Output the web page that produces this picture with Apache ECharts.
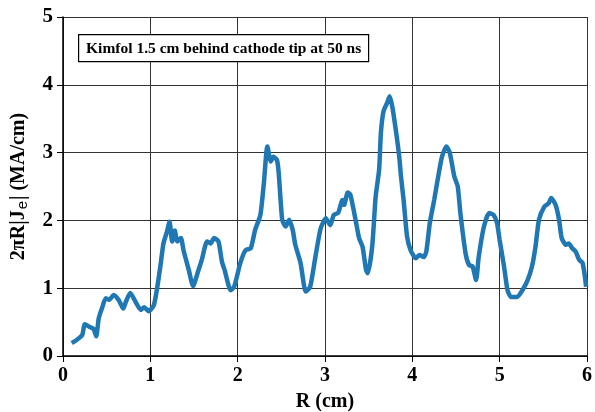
<!DOCTYPE html>
<html><head><meta charset="utf-8">
<script src="https://cdn.jsdelivr.net/npm/echarts@6/dist/echarts.min.js"></script>
<style>html,body{margin:0;padding:0;background:#fff}#c{width:595px;height:412px}</style>
</head><body><div id="c"></div>
<script>
const rValues = [0.10,0.16,0.22,0.25,0.30,0.35,0.38,0.41,0.45,0.49,0.53,0.58,0.64,0.69,0.72,0.77,0.83,0.89,0.93,0.98,1.04,1.08,1.12,1.15,1.19,1.22,1.25,1.28,1.31,1.35,1.38,1.44,1.49,1.54,1.59,1.65,1.69,1.73,1.78,1.82,1.85,1.92,1.96,2.03,2.09,2.15,2.20,2.26,2.30,2.34,2.38,2.41,2.45,2.47,2.51,2.55,2.59,2.63,2.66,2.72,2.78,2.83,2.89,2.95,3.01,3.06,3.10,3.15,3.20,3.22,3.26,3.29,3.35,3.39,3.43,3.47,3.49,3.54,3.58,3.62,3.64,3.67,3.71,3.74,3.77,3.81,3.85,3.87,3.90,3.94,3.98,4.04,4.08,4.13,4.16,4.20,4.25,4.29,4.34,4.39,4.43,4.48,4.52,4.55,4.61,4.65,4.69,4.73,4.76,4.82,4.88,4.93,4.97,5.00,5.05,5.09,5.13,5.20,5.26,5.32,5.37,5.41,5.45,5.51,5.56,5.59,5.64,5.68,5.71,5.76,5.79,5.83,5.87,5.91,5.95,5.99];
const jValues = [0.19,0.24,0.31,0.47,0.43,0.40,0.29,0.56,0.72,0.85,0.83,0.90,0.82,0.70,0.80,0.93,0.80,0.68,0.72,0.66,0.75,1.02,1.37,1.66,1.83,1.98,1.69,1.85,1.69,1.74,1.56,1.27,1.03,1.22,1.42,1.69,1.66,1.74,1.69,1.39,1.27,0.97,1.02,1.37,1.56,1.59,1.86,2.08,2.55,3.09,2.87,2.94,2.89,2.70,2.01,1.91,2.01,1.86,1.64,1.37,0.95,1.02,1.46,1.88,2.03,1.93,2.08,2.11,2.30,2.23,2.41,2.38,2.01,1.74,1.61,1.27,1.22,1.61,2.35,2.75,3.29,3.61,3.73,3.83,3.68,3.34,2.94,2.65,2.30,1.76,1.56,1.44,1.49,1.46,1.54,1.96,2.30,2.60,2.94,3.09,2.99,2.65,2.50,2.11,1.51,1.34,1.32,1.12,1.46,1.91,2.11,2.08,1.96,1.71,1.32,0.97,0.87,0.87,0.97,1.12,1.32,1.61,2.01,2.20,2.25,2.33,2.23,2.01,1.74,1.64,1.66,1.59,1.54,1.42,1.37,1.02];
const xTicks = [0,1,2,3,4,5,6];
const yTicks = [0,1,2,3,4,5];
const titleText = 'Kimfol 1.5 cm behind cathode tip at 50 ns';

const font = '"Liberation Serif", "Times New Roman", serif';
const chart = echarts.init(document.getElementById('c'), null, {renderer:'canvas'});
chart.setOption({
  animation:false,
  backgroundColor:'#fff',
  grid:{left:63,right:8,top:17,bottom:56,containLabel:false,outerBoundsMode:'none'},
  xAxis:{type:'value',min:0,max:6,interval:1,
    name:'R (cm)',nameLocation:'middle',nameGap:36,
    nameTextStyle:{fontFamily:font,fontWeight:'bold',fontSize:20,color:'#000'},
    axisLine:{lineStyle:{color:'#000',width:1.5}},
    axisTick:{show:true,length:6,lineStyle:{color:'#000'}},
    axisLabel:{fontFamily:font,fontWeight:'bold',fontSize:20,color:'#000',margin:10},
    splitLine:{show:true,lineStyle:{color:'#333',width:1}}
  },
  yAxis:{type:'value',min:0,max:5,interval:1,
    name:'{n|2πR|J}{s|e}{n|| (MA/cm)}',nameLocation:'middle',nameGap:33,
    nameTextStyle:{rich:{
      n:{fontFamily:font,fontWeight:'bold',fontSize:20,color:'#000'},
      s:{fontFamily:'"Liberation Sans", Arial, sans-serif',fontSize:15,color:'#000',padding:[7,1,0,1]}}},
    axisLine:{show:true,lineStyle:{color:'#000',width:1.5}},
    axisTick:{show:true,length:6,lineStyle:{color:'#000'}},
    axisLabel:{fontFamily:font,fontWeight:'bold',fontSize:21,color:'#000',margin:10},
    splitLine:{show:true,lineStyle:{color:'#333',width:1}}
  },
  graphic:[{type:'group',left:78,top:34,z:100,children:[
    {type:'rect',z:100,shape:{x:0,y:0,width:290,height:27},style:{fill:'#fff',stroke:'#000',lineWidth:1.2}},
    {type:'text',z:101,x:145,y:14,style:{text:titleText,font:'bold 15.5px '+font,fill:'#000',textAlign:'center',textVerticalAlign:'middle'}}
  ]}],
  series:[{type:'line',data:rValues.map((r,i)=>[r,jValues[i]]),showSymbol:false,smooth:0.2,
    lineStyle:{color:'#1f77b4',width:4.5},clip:true}]
});
</script></body></html>
